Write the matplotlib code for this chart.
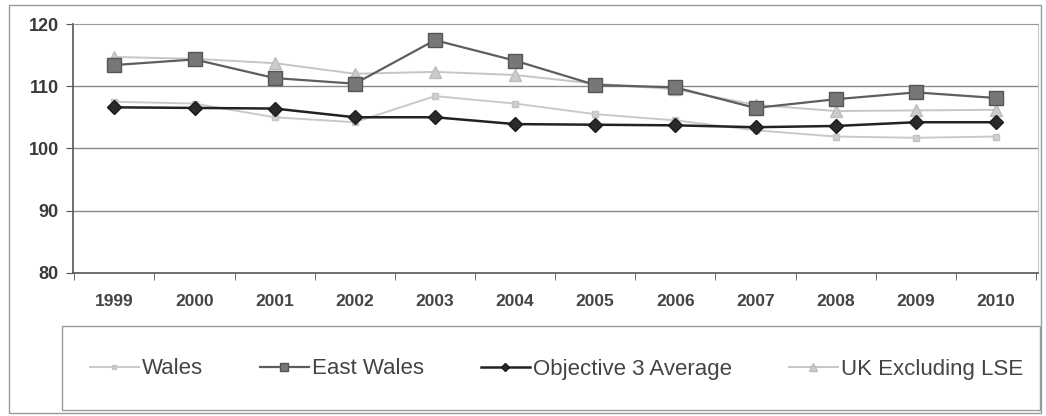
import matplotlib.pyplot as plt
from matplotlib.patches import Rectangle

years = ['1999', '2000', '2001', '2002', '2003', '2004', '2005', '2006', '2007', '2008', '2009', '2010']
wales = [107.5, 107.2, 105.0, 104.2, 108.4, 107.2, 105.5, 104.5, 102.9, 101.9, 101.7, 101.9]
east_wales = [113.4, 114.3, 111.3, 110.4, 117.4, 114.1, 110.2, 109.8, 106.5, 107.9, 109.0, 108.1]
objective3 = [106.6, 106.5, 106.4, 105.0, 105.0, 103.9, 103.8, 103.7, 103.4, 103.6, 104.2, 104.2]
uk_ex_lse = [114.7, 114.4, 113.7, 112.0, 112.3, 111.8, 110.4, 109.5, 107.0, 106.0, 106.1, 106.2]

plt.rcParams['font.family'] = ['Liberation Sans', 'DejaVu Sans']

fig = plt.figure(figsize=(10.46, 4.16), dpi=100)
ax = fig.add_axes([0.0695, 0.3445, 0.9225, 0.5978])

x = range(len(years))
ax.plot(x, wales, color='#c9c9c9', lw=1.4, marker='s', ms=5, mec='#c4c4c4', mfc='#cfcfcf', label='Wales', zorder=3)
ax.plot(x, east_wales, color='#5e5e5e', lw=1.6, marker='s', ms=10, mec='#555555', mfc='#777777', label='East Wales', zorder=4)
ax.plot(x, objective3, color='#222222', lw=1.8, marker='D', ms=7, mec='#1a1a1a', mfc='#2a2a2a', label='Objective 3 Average', zorder=5)
ax.plot(x, uk_ex_lse, color='#c6c6c6', lw=1.4, marker='^', ms=9, mec='#bdbdbd', mfc='#cccccc', label='UK Excluding LSE', zorder=3)

ax.set_xlim(-0.52, len(years) - 0.48)
ax.set_ylim(80, 120)
ax.set_yticks([80, 90, 100, 110, 120])
ax.set_yticklabels(['80', '90', '100', '110', '120'], fontsize=13, fontweight='bold', color='#3a3a3a')
ax.set_xticks(list(x))
ax.set_xticklabels(years, fontsize=12.5, fontweight='bold', color='#444444')
ax.set_xticks([i + 0.5 for i in range(-1, len(years))], minor=True)
ax.tick_params(axis='x', which='major', length=0, pad=15)
ax.tick_params(axis='x', which='minor', length=5, color='#555555', direction='out')
ax.tick_params(axis='y', length=5, color='#555555', pad=5)

for v in [90, 100, 110]:
    ax.axhline(v, color='#8a8a8a', lw=1.0, zorder=1)
ax.spines['top'].set_color('#9a9a9a')
ax.spines['right'].set_color('#c8c8c8')
ax.spines['left'].set_color('#555555')
ax.spines['bottom'].set_color('#555555')
ax.spines['left'].set_linewidth(1.2)
ax.spines['bottom'].set_linewidth(1.2)

# outer chart border and legend box
fig.patches.append(Rectangle((9 / 1046, 3 / 416), 1032 / 1046, 408 / 416, transform=fig.transFigure,
                             fill=False, ec='#9a9a9a', lw=1.0))
fig.patches.append(Rectangle((62 / 1046, 6 / 416), 978 / 1046, 84 / 416, transform=fig.transFigure,
                             fill=False, ec='#9a9a9a', lw=1.0))

handles, labels = ax.get_legend_handles_labels()
fig.legend(handles, labels, loc='center left', bbox_to_anchor=(90 / 1046, 47 / 416), ncol=4,
           frameon=False, fontsize=16, handlelength=2.2, handletextpad=0.15, columnspacing=2.55,
           borderpad=0, borderaxespad=0, markerscale=0.6, labelcolor='#444444')

fig.savefig('out.png', dpi=100)
